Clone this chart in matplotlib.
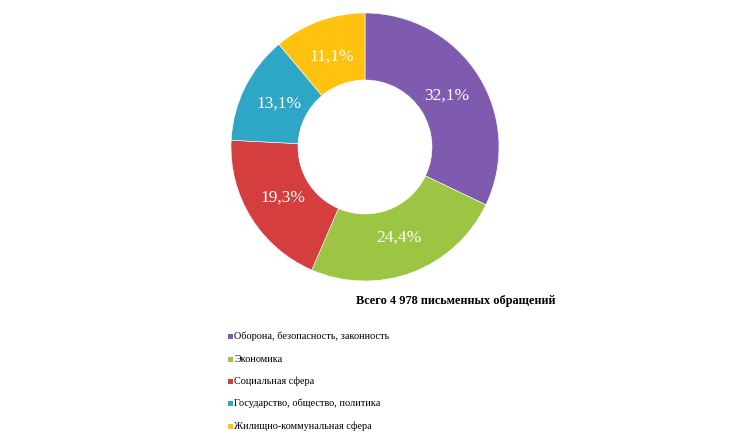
import matplotlib
matplotlib.use("Agg")
import matplotlib.pyplot as plt

categories = ["Оборона, безопасность, законность", "Экономика", "Социальная сфера",
              "Государство, общество, политика", "Жилищно-коммунальная сфера"]
values = [32.1, 24.4, 19.3, 13.1, 11.1]
colors = ["#7E5BAE", "#9CC543", "#D43E3E", "#2EA6C6", "#FFC20E"]
title = "Всего 4 978 письменных обращений"

W, H = 735, 441
fig = plt.figure(figsize=(W / 100, H / 100), dpi=100)
fig.patch.set_facecolor("white")

cx, cy, r = 365, 147, 134
ax = fig.add_axes([(cx - r) / W, (H - cy - r) / H, 2 * r / W, 2 * r / H])
wedges, texts, autotexts = ax.pie(
    values, colors=colors, startangle=90, counterclock=False,
    radius=1.0, wedgeprops=dict(width=0.5, edgecolor="white", linewidth=0.4),
    autopct=lambda p: f"{p:.1f}%".replace(".", ","), pctdistance=0.72,
    textprops=dict(color="white", fontsize=12.5, family="Liberation Serif"))
ax.set_xlim(-1, 1)
ax.set_ylim(-1, 1)
ax.set_aspect("equal")
ax.axis("off")

fig.text(456 / W, 1 - 301 / H, title, ha="center", va="center",
         fontsize=8.8, fontweight="bold", family="Liberation Serif")

rows = [336, 359, 381, 403, 426]
for cat, col, y in zip(categories, colors, rows):
    fig.patches.append(plt.Rectangle((228 / W, 1 - (y + 2.5) / H), 5 / W, 5 / H,
                                     transform=fig.transFigure, facecolor=col,
                                     edgecolor="none"))
    fig.text(234.5 / W, 1 - y / H, cat, ha="left", va="center",
             fontsize=7.4, family="Liberation Serif")

fig.savefig("out.png", dpi=100)
